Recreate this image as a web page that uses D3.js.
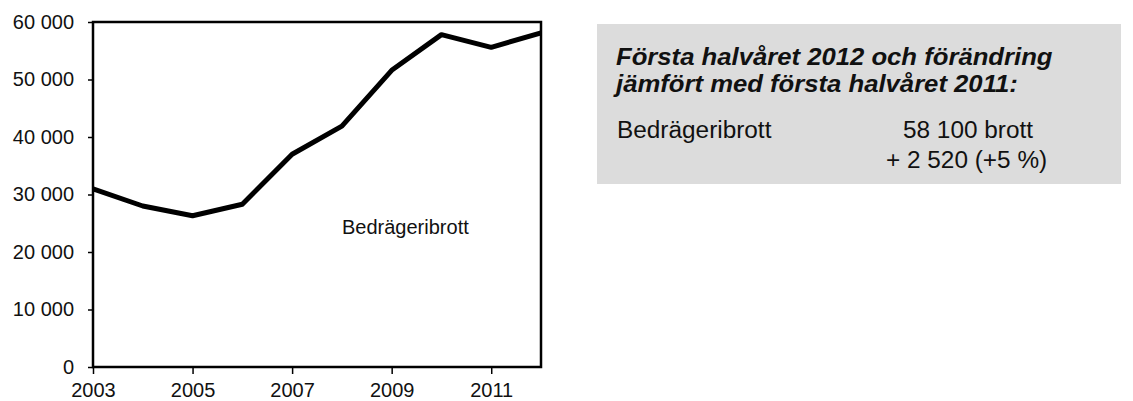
<!DOCTYPE html>
<html>
<head>
<meta charset="utf-8">
<script src="https://cdn.jsdelivr.net/npm/d3@7"></script>
<style>
  body { margin: 0; background: #fff; }
  text { font-family: "Liberation Sans", Arial, sans-serif; fill: #111; }
</style>
</head>
<body>
<div id="chart"></div>
<script>
var years = [2003, 2004, 2005, 2006, 2007, 2008, 2009, 2010, 2011, 2012];
var values = [31000, 28000, 26300, 28300, 37000, 41900, 51600, 57800, 55600, 58100];
var yTicks = [0, 10000, 20000, 30000, 40000, 50000, 60000];
var xTicks = [2003, 2005, 2007, 2009, 2011];
var seriesName = 'Bedrägeribrott';
var boxTitle = ['Första halvåret 2012 och förändring', 'jämfört med första halvåret 2011:'];
var boxRows = ['Bedrägeribrott', '58 100 brott', '+ 2 520 (+5 %)'];

var svg = d3.select('#chart').append('svg')
  .attr('width', 1133)
  .attr('height', 401);

var x = d3.scaleLinear().domain([2003, 2012]).range([93, 541]);
var y = d3.scaleLinear().domain([0, 60000]).range([367, 22]);

function fmt(v) {
  // swedish style thousands with a space
  return d3.format(',')(v).replace(/,/g, ' ');
}

svg.append('defs').append('clipPath').attr('id', 'plot')
  .append('rect')
  .attr('x', x(2003)).attr('y', y(60000))
  .attr('width', x(2012) - x(2003))
  .attr('height', y(0) - y(60000));

var yAxis = svg.append('g')
  .attr('transform', 'translate(' + x(2003) + ',0)')
  .call(d3.axisLeft(y).tickValues(yTicks).tickSize(5).tickPadding(14).tickFormat(fmt));
yAxis.selectAll('text').style('font-size', '20px');

var xAxis = svg.append('g')
  .attr('transform', 'translate(0,' + y(0) + ')')
  .call(d3.axisBottom(x).tickValues(xTicks).tickSize(7).tickPadding(9).tickFormat(d3.format('d')));
xAxis.selectAll('text').style('font-size', '20px');

svg.selectAll('.domain').remove();
svg.selectAll('.tick line').attr('stroke', '#000').attr('stroke-width', 1.5);

svg.append('rect')
  .attr('x', x(2003)).attr('y', y(60000))
  .attr('width', x(2012) - x(2003))
  .attr('height', y(0) - y(60000))
  .attr('fill', 'none')
  .attr('stroke', '#000')
  .attr('stroke-width', 2.5);

var line = d3.line()
  .x(function (d, i) { return x(years[i]); })
  .y(function (d) { return y(d); });

svg.append('path')
  .datum(values)
  .attr('clip-path', 'url(#plot)')
  .attr('d', line)
  .attr('fill', 'none')
  .attr('stroke', '#000')
  .attr('stroke-width', 5)
  .attr('stroke-linejoin', 'round');

svg.append('text')
  .attr('x', 342).attr('y', 234)
  .style('font-size', '20px')
  .text(seriesName);

// grey info box on the right
svg.append('rect')
  .attr('x', 597).attr('y', 24)
  .attr('width', 524).attr('height', 160)
  .attr('fill', '#dcdcdc');

function stretched(xp, yp, sx) {
  return svg.append('g').attr('transform', 'translate(' + xp + ',' + yp + ') scale(' + sx + ',1)');
}

stretched(616, 65, 1.07).append('text')
  .style('font-size', '24px').style('font-weight', 'bold').style('font-style', 'italic')
  .text(boxTitle[0]);
stretched(616, 92, 1.07).append('text')
  .style('font-size', '24px').style('font-weight', 'bold').style('font-style', 'italic')
  .text(boxTitle[1]);

stretched(617, 138, 1.06).append('text').style('font-size', '23px').text(boxRows[0]);
stretched(903, 138, 1.06).append('text').style('font-size', '23px').text(boxRows[1]);
stretched(886, 168, 1.06).append('text').style('font-size', '23px').text(boxRows[2]);
</script>
</body>
</html>
